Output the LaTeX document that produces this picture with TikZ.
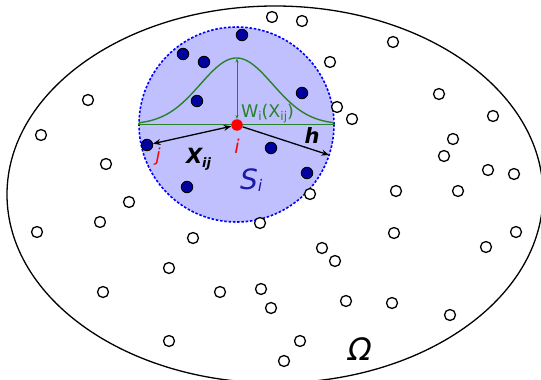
\documentclass[tikz,border=0pt]{standalone}
\usepackage{fontspec}
\newfontfamily\dv{DejaVu Sans}
\usetikzlibrary{arrows.meta,shapes.geometric}
\definecolor{lav}{RGB}{192,192,255}
\definecolor{navydot}{RGB}{0,0,160}
\definecolor{gaussgreen}{RGB}{40,130,40}
\definecolor{stext}{RGB}{25,25,170}
\begin{document}
\begin{tikzpicture}[x=1pt,y=-1pt,
  opendot/.style={circle,draw=black,fill=white,line width=1.3pt,minimum size=11pt,inner sep=0pt},
  bluedot/.style={circle,draw=black,fill=navydot,line width=0.9pt,minimum size=11.5pt,inner sep=0pt},
  reddot/.style={circle,fill=red,minimum size=11.5pt,inner sep=0pt},
  blackarrow/.style={line width=1.3pt,black},
  btip/.tip={Stealth[length=7.5pt,width=6pt]},
  gtip/.tip={Stealth[length=4pt,width=3pt]},
  lbl/.style={inner sep=0pt,outer sep=0pt}]
\useasboundingbox (0,0) rectangle (541,380);
% domain Omega
\node[ellipse,draw=black,line width=1.3pt,minimum width=536pt,minimum height=377pt,inner sep=0pt] (omega) at (275,194.5) {};
% support S_i
\node[circle,fill=lav,draw=blue,line width=1.6pt,dash pattern=on 2.5pt off 1.8pt,minimum size=195pt,inner sep=0pt] (S) at (236.5,124.5) {};
% open particles
\foreach \px/\py [count=\k] in {272/17,302/21,393/42,330/62,337/107,352/119,439/94,493/116,453/139,444/156,488/170,514/174,396/191,458/191,310/194,88/100,41/135,106/164,129/202,100/222,37/232,193/238,260/223,169/268,103/292,220/292,261/289,271/308,169/341,394/233,516/232,486/247,322/248,335/261,346/301,392/303,450/315,300/341,284/361}
  \node[opendot] (o\k) at (\px,\py) {};
% kernel
\draw[gaussgreen,line width=0.9pt] (S.west) -- (S.east);
\draw[gaussgreen,line width=1.4pt] plot[domain=-97.5:97.5,samples=90] ({236.5+\x},{124.5-66.5*exp(-((\x)^2)/2600)});
% neighbour particles
\foreach \px/\py [count=\k] in {242/35,183/54,204/62,197/101,302/93,271/148,307/173,187/187}
  \node[bluedot] (b\k) at (\px,\py) {};
\node[bluedot] (j) at (147,145) {};
\node[reddot] (i) at (237,125) {};
\coordinate (peak) at (237,58.5);
\coordinate (hend) at (329,155);
\draw[gaussgreen,line width=0.8pt,gtip-gtip] (i) -- (peak);
\draw[blackarrow,btip-btip] (j) -- (i);
\draw[blackarrow,-btip] (i) -- (hend);
% labels
\node[lbl,anchor=base west,text=gaussgreen] (wlab) at (241,117) {\dv\fontsize{17.5}{17.5}\selectfont W\raisebox{-3pt}{\fontsize{12}{12}\selectfont i}(X\raisebox{-3pt}{\fontsize{12}{12}\selectfont ij})};
\node[lbl,anchor=base west] (xlab) at (186,163.5) {\dv\bfseries\itshape\fontsize{21}{21}\selectfont X\raisebox{-4pt}{\fontsize{13}{13}\selectfont ij}};
\node[lbl,anchor=base] (hlab) at (312,143.5) {\dv\bfseries\itshape\fontsize{21}{21}\selectfont h};
\node[lbl,anchor=base,text=red] (ilab) at (237,153) {\dv\itshape\fontsize{19}{19}\selectfont i};
\node[lbl,anchor=base,text=red] (jlab) at (158,161.5) {\dv\itshape\fontsize{18}{18}\selectfont j};
\node[lbl,anchor=base west,text=stext] (slab) at (240,189) {\dv\itshape\fontsize{28}{28}\selectfont S\raisebox{-2pt}{\fontsize{16}{16}\selectfont i}};
\node[lbl,anchor=base] (olab) at (360,360.5) {\dv\itshape\fontsize{31}{31}\selectfont Ω};
\end{tikzpicture}
\end{document}
